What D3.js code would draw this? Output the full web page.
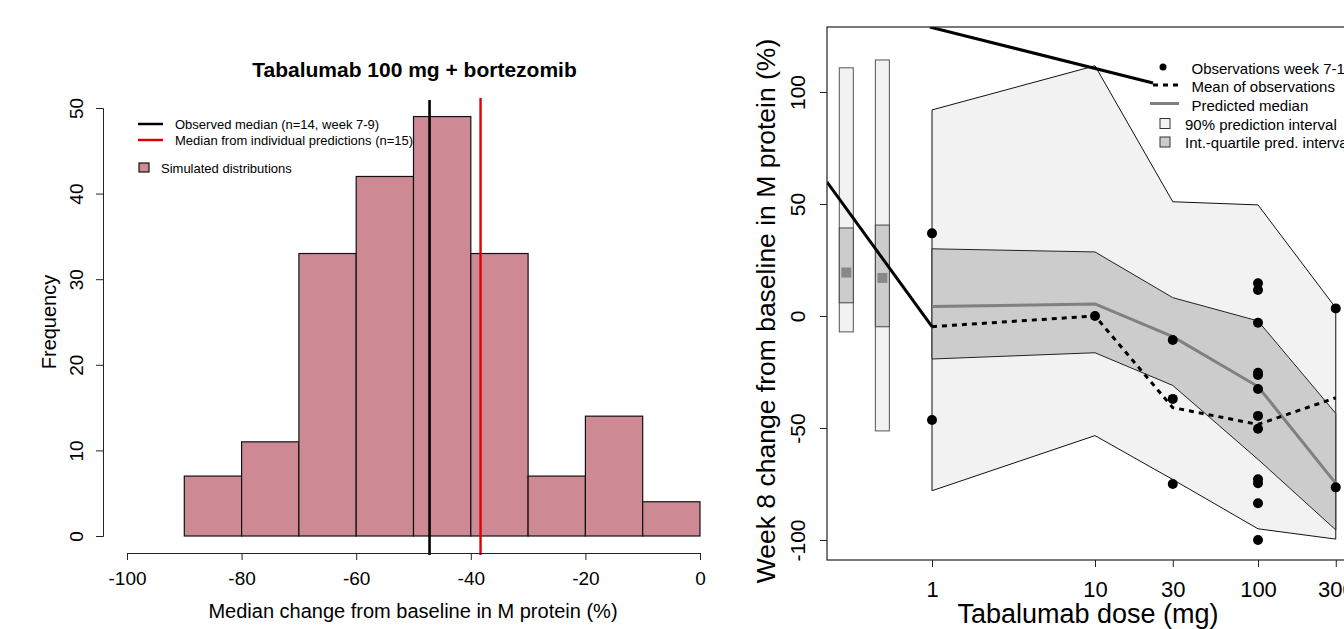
<!DOCTYPE html>
<html>
<head>
<meta charset="utf-8">
<script src="https://cdnjs.cloudflare.com/ajax/libs/d3/7.8.5/d3.min.js"></script>
<style>
body{margin:0;background:#fff;}
svg{display:block;font-family:"Liberation Sans",Arial,sans-serif;}
</style>
</head>
<body>
<script>
// ---- left panel: simulated medians, 100 mg
var binStarts = [-90,-80,-70,-60,-50,-40,-30,-20,-10];
var binWidth = 10;
var counts = [7,11,33,42,49,33,7,14,4];
var observedMedian = -47.2;
var predictedMedian = -38.3;
var histXTicks = [-100,-80,-60,-40,-20,0];
var histYTicks = [0,10,20,30,40,50];
var histLegend = ['Observed median (n=14, week 7-9)','Median from individual predictions (n=15)','Simulated distributions'];

// ---- right panel: dose response
var doses = [1,10,30,100,300];
var pi90Upper = [92,111.7,51,49.6,3.6];
var pi90Lower = [-78,-53.4,-73,-95,-99.6];
var iqrUpper = [30,28.6,8.2,-2.2,-43.5];
var iqrLower = [-19.2,-16.4,-31,-64,-95.5];
var predMedian = [4.2,5.4,-9.2,-31.5,-74.7];
var obsMean = [-4.75,0,-40.9,-48.4,-36.5];
var obsDose  = [1,1,10,30,30,30,100,100,100,100,100,100,100,100,100,100,100,100,300,300];
var obsValue = [36.9,-46.4,0,-10.7,-37,-75,14.6,11.6,-3,-25.3,-26.3,-32.6,-44.6,-50.3,-72.9,-74.7,-83.6,-100,3.4,-76.5];
// the two boxes on the left of the dose axis
var boxDose = [0.298,0.496];
var box90Hi = [110.8,114.3];
var box90Lo = [-7.1,-51.3];
var boxQ3 = [39.3,40.6];
var boxQ1 = [5.9,-4.8];
var boxMed = [19.4,17.0];
// stray black segments
var segA = [[0.227,59.8],[1,-4.75]];
var segB = [[0.97,129],[22.7,104]];
var doseTicks = [1,10,30,100,300];
var changeTicks = [-100,-50,0,50,100];
var rightLegend = ['Observations week 7-10','Mean of observations','Predicted median','90% prediction interval','Int.-quartile pred. interval'];

var svg = d3.select('body').append('svg').attr('width',1344).attr('height',629);

// ================= LEFT =================
var hx = d3.scaleLinear().domain([-100,0]).range([127,700]);
var hy = d3.scaleLinear().domain([0,50]).range([536,108]);

var left = svg.append('g');

left.append('g').selectAll('rect')
  .data(counts)
  .enter().append('rect')
  .attr('x',function(d,i){ return hx(binStarts[i]); })
  .attr('y',function(d){ return hy(d); })
  .attr('width',function(d,i){ return hx(binStarts[i]+binWidth)-hx(binStarts[i]); })
  .attr('height',function(d){ return hy(0)-hy(d); })
  .attr('fill','#cd8a94')
  .attr('stroke','#111')
  .attr('stroke-width',1.2);

left.append('line')
  .attr('x1',hx(observedMedian)).attr('x2',hx(observedMedian))
  .attr('y1',100).attr('y2',555)
  .attr('stroke','#000').attr('stroke-width',2.6);
left.append('line')
  .attr('x1',hx(predictedMedian)).attr('x2',hx(predictedMedian))
  .attr('y1',98).attr('y2',555)
  .attr('stroke','#e00000').attr('stroke-width',2.4);

var hxAxis = left.append('g').attr('transform','translate(0,553)')
  .call(d3.axisBottom(hx).tickValues(histXTicks).tickSizeOuter(0).tickSize(7).tickFormat(d3.format('d')));
hxAxis.selectAll('text').attr('y',32).attr('dy',0).style('font-size','19px').attr('fill','#000');
hxAxis.selectAll('path,line').attr('stroke','#222');
hxAxis.selectAll('text').text(function(d){ return String(d).replace('\u2212','-'); });

var hyAxis = left.append('g').attr('transform','translate(103,0)')
  .call(d3.axisLeft(hy).tickValues(histYTicks).tickSizeOuter(0).tickSize(7));
hyAxis.selectAll('text')
  .attr('transform','rotate(-90)').attr('x',0).attr('y',-20).attr('dy',0)
  .attr('text-anchor','middle').style('font-size','19px').attr('fill','#000');
hyAxis.selectAll('path,line').attr('stroke','#222');

left.append('text').attr('x',414.5).attr('y',77).attr('text-anchor','middle')
  .style('font-size','21px').style('font-weight','bold')
  .text('Tabalumab 100 mg + bortezomib');
left.append('text').attr('x',413).attr('y',618).attr('text-anchor','middle')
  .style('font-size','20px')
  .text('Median change from baseline in M protein (%)');
left.append('text').attr('transform','translate(56,322) rotate(-90)').attr('text-anchor','middle')
  .style('font-size','20px')
  .text('Frequency');

// legend
var lg = left.append('g');
lg.append('line').attr('x1',138).attr('x2',163).attr('y1',124).attr('y2',124).attr('stroke','#000').attr('stroke-width',2.5);
lg.append('line').attr('x1',138).attr('x2',163).attr('y1',140).attr('y2',140).attr('stroke','#e00000').attr('stroke-width',2.5);
lg.append('rect').attr('x',139).attr('y',163).attr('width',10).attr('height',9)
  .attr('fill','#cd8a94').attr('stroke','#111').attr('stroke-width',1.2);
lg.selectAll('text').data(histLegend).enter().append('text')
  .attr('x',function(d,i){ return i<2 ? 175 : 161; })
  .attr('y',function(d,i){ return [128.5,144.5,172.5][i]; })
  .style('font-size','13px')
  .text(function(d){ return d; });

// ================= RIGHT =================
var rx = d3.scaleLog().domain([1,100]).range([932,1258]);
var ry = d3.scaleLinear().domain([-100,100]).range([540,92]);

svg.append('clipPath').attr('id','rclip').append('rect')
  .attr('x',827).attr('y',27).attr('width',600).attr('height',533);

var right = svg.append('g');
var plot = right.append('g').attr('clip-path','url(#rclip)');

var band = function(up,lo){
  var pts = doses.map(function(d,i){ return [rx(d),ry(up[i])]; });
  for (var i=doses.length-1;i>=0;i--) pts.push([rx(doses[i]),ry(lo[i])]);
  return 'M'+pts.join('L')+'Z';
};
plot.append('path').attr('d',band(pi90Upper,pi90Lower))
  .attr('fill','#f2f2f2').attr('stroke','#111').attr('stroke-width',1);
plot.append('path').attr('d',band(iqrUpper,iqrLower))
  .attr('fill','#cccccc').attr('stroke','#222').attr('stroke-width',1);

plot.append('path')
  .datum(predMedian)
  .attr('d',d3.line().x(function(d,i){ return rx(doses[i]); }).y(function(d){ return ry(d); }))
  .attr('fill','none').attr('stroke','#808080').attr('stroke-width',3);

// boxes
var bw = 14;
var boxes = plot.append('g').selectAll('g').data(boxDose).enter().append('g');
boxes.append('rect')
  .attr('x',function(d){ return rx(d)-bw/2; })
  .attr('y',function(d,i){ return ry(box90Hi[i]); })
  .attr('width',bw)
  .attr('height',function(d,i){ return ry(box90Lo[i])-ry(box90Hi[i]); })
  .attr('fill','#f2f2f2').attr('stroke','#555').attr('stroke-width',1);
boxes.append('rect')
  .attr('x',function(d){ return rx(d)-bw/2; })
  .attr('y',function(d,i){ return ry(boxQ3[i]); })
  .attr('width',bw)
  .attr('height',function(d,i){ return ry(boxQ1[i])-ry(boxQ3[i]); })
  .attr('fill','#cccccc').attr('stroke','#444').attr('stroke-width',1);
boxes.append('rect')
  .attr('x',function(d){ return rx(d)-5; })
  .attr('y',function(d,i){ return ry(boxMed[i])-5; })
  .attr('width',10).attr('height',10)
  .attr('fill','#888888');

plot.append('path')
  .datum(obsMean)
  .attr('d',d3.line().x(function(d,i){ return rx(doses[i]); }).y(function(d){ return ry(d); }))
  .attr('fill','none').attr('stroke','#000').attr('stroke-width',3).attr('stroke-dasharray','5,5');

var segLine = d3.line().x(function(d){ return rx(d[0]); }).y(function(d){ return ry(d[1]); });
[segA,segB].forEach(function(s){
  plot.append('path').attr('d',segLine(s))
    .attr('fill','none').attr('stroke','#000').attr('stroke-width',3);
});

plot.append('g').selectAll('circle').data(obsValue).enter().append('circle')
  .attr('cx',function(d,i){ return rx(obsDose[i]); })
  .attr('cy',function(d){ return ry(d); })
  .attr('r',5).attr('fill','#000');

// frame
right.append('rect').attr('x',827).attr('y',27).attr('width',600).attr('height',533)
  .attr('fill','none').attr('stroke','#222').attr('stroke-width',1.2);

var ryAxis = right.append('g').attr('transform','translate(827,0)')
  .call(d3.axisLeft(ry).tickValues(changeTicks).tickSize(7).tickSizeOuter(0));
ryAxis.select('.domain').remove();
ryAxis.selectAll('line').attr('stroke','#222');
ryAxis.selectAll('text')
  .attr('transform','rotate(-90)').attr('x',0).attr('y',-22).attr('dy',0)
  .attr('text-anchor','middle').style('font-size','21px').attr('fill','#000')
  .text(function(d){ return String(d); });

var rxAxis = right.append('g').attr('transform','translate(0,560)')
  .call(d3.axisBottom(rx).tickValues(doseTicks).tickSize(7).tickSizeOuter(0).tickFormat(d3.format('d')));
rxAxis.select('.domain').remove();
rxAxis.selectAll('line').attr('stroke','#222');
rxAxis.selectAll('text').attr('y',37).attr('dy',0).style('font-size','22px').attr('fill','#000');

var xt = right.append('g');
var xtText = xt.append('text').attr('x',1088).attr('y',623).attr('text-anchor','middle')
  .style('font-size','27px').text('Tabalumab dose (mg)');
var bb = xtText.node().getBBox();
xt.insert('rect','text').attr('x',bb.x-2).attr('y',bb.y+1).attr('width',bb.width+4).attr('height',bb.height)
  .attr('fill','#fff');

right.append('text').attr('transform','translate(775,311) rotate(-90)').attr('text-anchor','middle')
  .style('font-size','26.5px').text('Week 8 change from baseline in M protein (%)');

// legend
var rl = right.append('g');
rl.append('circle').attr('cx',1163).attr('cy',67).attr('r',3.5).attr('fill','#000');
rl.append('line').attr('x1',1153).attr('x2',1179).attr('y1',85).attr('y2',85)
  .attr('stroke','#000').attr('stroke-width',3).attr('stroke-dasharray','5,5');
rl.append('line').attr('x1',1150).attr('x2',1179).attr('y1',103.5).attr('y2',103.5)
  .attr('stroke','#808080').attr('stroke-width',3);
rl.append('rect').attr('x',1160).attr('y',118.5).attr('width',10).attr('height',10)
  .attr('fill','#f2f2f2').attr('stroke','#333').attr('stroke-width',1);
rl.append('rect').attr('x',1160).attr('y',137).attr('width',10).attr('height',10)
  .attr('fill','#cccccc').attr('stroke','#333').attr('stroke-width',1);
rl.selectAll('text').data(rightLegend).enter().append('text')
  .attr('x',function(d,i){ return i<3 ? 1191.5 : 1185; })
  .attr('y',function(d,i){ return [74,92,111,130,148][i]; })
  .style('font-size','15px')
  .text(function(d){ return d; });
</script>
</body>
</html>
